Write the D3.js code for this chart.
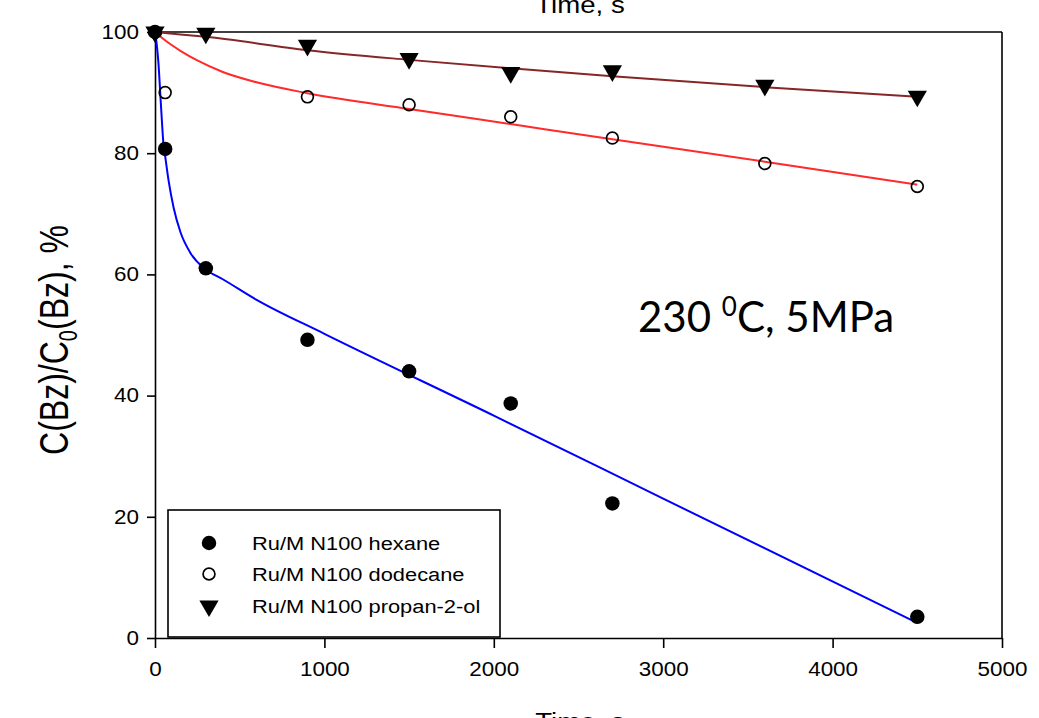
<!DOCTYPE html>
<html>
<head>
<meta charset="utf-8">
<script src="https://cdn.jsdelivr.net/npm/d3@7"></script>
<style>
  body { margin: 0; background: #fff; }
  svg { display: block; }
  text { font-family: Arial, "Liberation Sans", sans-serif; fill: #000; }
</style>
</head>
<body>
<div id="chart"></div>
<script>
// DATA

// x ticks, y ticks
const xTicks = [0, 1000, 2000, 3000, 4000, 5000];
const yTicks = [0, 20, 40, 60, 80, 100];

// measured points
const hexaneTime = [0, 60, 300, 900, 1500, 2100, 2700, 4500];
const hexaneConc = [100, 80.7, 61, 49.2, 44, 38.7, 22.2, 3.5];

const dodecaneTime = [0, 60, 900, 1500, 2100, 2700, 3600, 4500];
const dodecaneConc = [100, 90, 89.3, 88, 86, 82.5, 78.3, 74.5];

const propanolTime = [0, 300, 900, 1500, 2100, 2700, 3600, 4500];
const propanolConc = [100, 99.8, 97.8, 95.6, 93.3, 93.6, 91.2, 89.4];

// fitted curves as drawn in the picture
const hexaneFitTime = [0, 10, 20, 35, 50, 60, 80, 110, 150, 210, 300, 400, 600, 1000, 2000, 3000, 4500];
const hexaneFitConc = [100, 98, 95, 88, 81.5, 79.5, 75.5, 71, 67, 63.5, 60.8, 59.2, 55.8, 50.2, 36.7, 23, 2.5];

const dodecaneFitTime = [0, 75, 150, 250, 400, 600, 900, 1500, 2100, 2700, 3600, 4500];
const dodecaneFitConc = [100, 98.3, 96.9, 95.3, 93.4, 91.7, 89.9, 87.3, 84.8, 82.3, 78.6, 74.8];

const propanolFitTime = [0, 150, 300, 900, 1500, 2100, 2700, 3600, 4500];
const propanolFitConc = [100, 99.6, 99.2, 97.0, 95.4, 94.0, 92.7, 90.9, 89.3];

const legendLabels = ["Ru/M N100 hexane", "Ru/M N100 dodecane", "Ru/M N100 propan-2-ol"];

// LAYOUT
const width = 1039, height = 718;
const plotLeft = 155, plotRight = 1002, plotTop = 32, plotBottom = 638;
// the original picture is stretched sideways
const SX = 1.15;

const svg = d3.select("#chart").append("svg")
  .attr("width", width)
  .attr("height", height);

const x = d3.scaleLinear().domain([0, 5000]).range([plotLeft, plotRight]);
const y = d3.scaleLinear().domain([0, 100]).range([plotBottom, plotTop]);

// stretched text helper
function stext(x0, y0, str, size, anchor) {
  const g = svg.append("g")
    .attr("transform", `translate(${x0},${y0}) scale(${SX},1)`);
  return g.append("text")
    .attr("font-size", size)
    .attr("text-anchor", anchor || "start")
    .text(str);
}

// Axes
const yAxis = svg.append("g")
  .attr("transform", `translate(${plotLeft},0)`)
  .call(d3.axisLeft(y).tickValues(yTicks).tickSize(8).tickSizeOuter(0).tickPadding(6));

const xAxis = svg.append("g")
  .attr("transform", `translate(0,${plotBottom})`)
  .call(d3.axisBottom(x).tickValues(xTicks).tickFormat(d3.format("d"))
    .tickSize(10).tickSizeOuter(0).tickPadding(14));

[yAxis, xAxis].forEach(a => {
  a.selectAll("path, line").attr("stroke", "#000").attr("stroke-width", 1.6);
  a.selectAll("text")
    .attr("font-size", 19.5)
    .attr("fill", "#111");
});
// stretch tick labels sideways
yAxis.selectAll("text").attr("transform", `scale(${SX},1)`);
xAxis.selectAll("text").attr("transform", `scale(${SX},1)`);

// frame top and right
svg.append("line").attr("x1", plotLeft).attr("x2", plotRight).attr("y1", plotTop).attr("y2", plotTop)
  .attr("stroke", "#000").attr("stroke-width", 1.6);
svg.append("line").attr("x1", plotRight).attr("x2", plotRight).attr("y1", plotTop).attr("y2", plotBottom)
  .attr("stroke", "#000").attr("stroke-width", 1.6);

// fitted lines
const line = d3.line()
  .x(d => x(d[0]))
  .y(d => y(d[1]))
  .curve(d3.curveMonotoneX);

function zip(a, b) { return a.map((v, i) => [v, b[i]]); }

const fits = [
  { t: propanolFitTime, c: propanolFitConc, color: "#862626" },
  { t: dodecaneFitTime, c: dodecaneFitConc, color: "#ff2a2a" },
  { t: hexaneFitTime, c: hexaneFitConc, color: "#0000ff" }
];
fits.forEach(f => {
  svg.append("path")
    .attr("d", line(zip(f.t, f.c)))
    .attr("fill", "none")
    .attr("stroke", f.color)
    .attr("stroke-width", 2);
});

// markers
const circleSym = d3.symbol().type(d3.symbolCircle).size(165);
const openSym = d3.symbol().type(d3.symbolCircle).size(110);
const triSym = d3.symbol().type(d3.symbolTriangle).size(160);

function drawFilled(g, cx, cy) {
  g.append("path").attr("d", circleSym()).attr("transform", `translate(${cx},${cy})`)
    .attr("fill", "#000");
}
function drawOpen(g, cx, cy) {
  g.append("path").attr("d", openSym()).attr("transform", `translate(${cx},${cy})`)
    .attr("fill", "none").attr("stroke", "#000").attr("stroke-width", 1.7);
}
function drawTri(g, cx, cy) {
  g.append("path").attr("d", triSym()).attr("transform", `translate(${cx},${cy}) rotate(180)`)
    .attr("fill", "#000");
}

const marks = svg.append("g");
zip(dodecaneTime, dodecaneConc).forEach(d => drawOpen(marks, x(d[0]), y(d[1])));
zip(propanolTime, propanolConc).forEach(d => drawTri(marks, x(d[0]), y(d[1])));
zip(hexaneTime, hexaneConc).forEach(d => drawFilled(marks, x(d[0]), y(d[1])));

// legend
svg.append("rect")
  .attr("x", 168).attr("y", 510).attr("width", 332).attr("height", 127)
  .attr("fill", "#fff").attr("stroke", "#000").attr("stroke-width", 1.6);
const legendY = [543, 574, 606];
const legendDraw = [drawFilled, drawOpen, drawTri];
legendLabels.forEach((lab, i) => {
  legendDraw[i](svg, 209, legendY[i]);
  stext(252, legendY[i] + 7, lab, 19).attr("fill", "#111");
});

// axis titles (cropped in the original)
stext(580, 13, "Time, s", 24, "middle");
stext(580, 730, "Time, s", 24, "middle");

// y title, rotated
const yt = svg.append("g")
  .attr("transform", `translate(68,340) rotate(-90) scale(1,1.25)`)
  .append("text")
  .attr("font-size", 32)
  .attr("text-anchor", "middle");
yt.append("tspan").text("C(Bz)/C");
yt.append("tspan").attr("font-size", 20).attr("dy", 7).text("0");
yt.append("tspan").attr("dy", -7).text("(Bz), %");

// annotation (different font in the original)
const ann = svg.append("text")
  .attr("x", 638).attr("y", 332)
  .style("font-family", "Lato, 'Open Sans', sans-serif")
  .attr("font-size", 42);
ann.append("tspan").text("230 ");
ann.append("tspan").attr("font-size", 26).attr("dy", -16).text("0");
ann.append("tspan").attr("dy", 16).text("C, 5MPa");
</script>
</body>
</html>
